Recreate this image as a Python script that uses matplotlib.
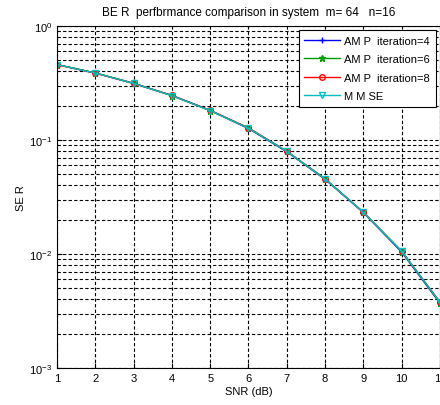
import matplotlib
matplotlib.use('Agg')
import matplotlib.pyplot as plt

plt.rcParams['font.family'] = ['Liberation Sans', 'DejaVu Sans']

snr = [1, 2, 3, 4, 5, 6, 7, 8, 9, 10, 11]
amp4 = [0.458, 0.387, 0.313, 0.246, 0.182, 0.126, 0.0790, 0.0452, 0.0231, 0.0104, 0.00370]
amp6 = [0.459, 0.388, 0.314, 0.245, 0.181, 0.127, 0.0795, 0.0455, 0.0232, 0.0105, 0.00375]
amp8 = [0.457, 0.386, 0.315, 0.246, 0.182, 0.128, 0.0798, 0.0457, 0.0233, 0.0106, 0.00380]
mmse = [0.458, 0.387, 0.314, 0.245, 0.181, 0.127, 0.0796, 0.0455, 0.0232, 0.0106, 0.00377]

fig = plt.figure(figsize=(4.4, 4.06), dpi=100)
ax = fig.add_axes([0.1295, 0.091, 0.8705, 0.8425])

ax.semilogy(snr, amp4, color='b', marker='+', ms=5, lw=1, label='AM P  iteration=4')
ax.semilogy(snr, amp6, color=(0, 0.6, 0), marker='*', ms=4.5, lw=1, label='AM P  iteration=6')
ax.semilogy(snr, amp8, color='r', marker='o', ms=4, mfc='none', lw=1, label='AM P  iteration=8')
ax.semilogy(snr, mmse, color='c', marker='v', ms=5, mfc='none', lw=1, label='M M SE')

ax.set_xlim(1, 11)
ax.set_ylim(1e-3, 1)
ax.set_xticks(snr)
ax.grid(True, which='major', color='k', ls=(0, (3, 2)), lw=0.8)
ax.grid(True, which='minor', axis='y', color='k', ls=(0, (3, 2)), lw=0.8)
ax.tick_params(which='both', direction='in', labelsize=8)
ax.tick_params(which='minor', length=2)

ax.set_title('BE R  perfbrmance comparison in system  m= 64   n=16', fontsize=8.5, pad=8)
ax.set_xlabel('SNR (dB)', fontsize=8, labelpad=2)
ax.set_ylabel('SE R', fontsize=8, labelpad=2)

leg = ax.legend(loc='upper right', fontsize=8, fancybox=False, edgecolor='k',
                framealpha=1, handlelength=3.2, handletextpad=0.4, numpoints=1,
                labelspacing=0.75, borderaxespad=0.4, borderpad=0.5)
leg.get_frame().set_linewidth(0.8)

fig.savefig('out.png', dpi=100)
